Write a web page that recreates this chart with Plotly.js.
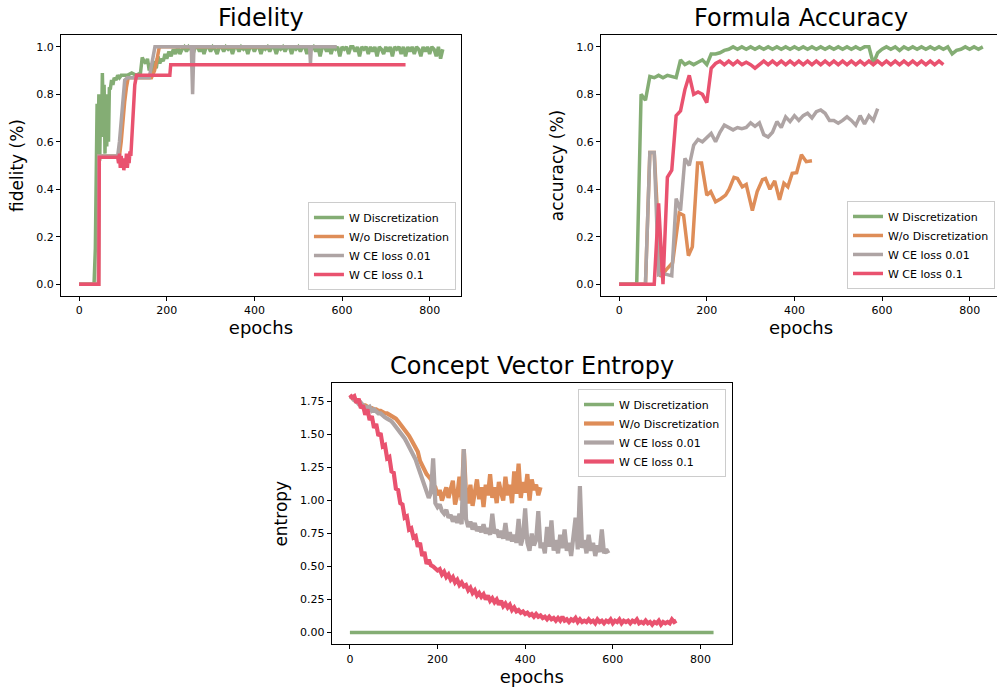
<!DOCTYPE html>
<html>
<head>
<meta charset="utf-8">
<script src="https://cdn.plot.ly/plotly-3.0.1.min.js"></script>
<style>
html,body{margin:0;padding:0;overflow:hidden;background:#fff;}
#chart{width:1001px;height:689px;}
</style>
</head>
<body>
<div id="chart"></div>
<script>
// ---------- series names & colours ----------
const seriesNames = ["W Discretization", "W/o Discretization", "W CE loss 0.01", "W CE loss 0.1"];
const seriesColors = ["#84ad74", "#de8d58", "#aea4a4", "#e9526f"];

// ---------- Fidelity ----------
const fidGreenX = [0,34,37,39,41,43,45,47,49,51,53,55,57,59,61,63,65,67,69,71,74,77,80,84,88,92,96,100,110,120,130,140,144,148,152,156,160,164,168,172,176,180,184,188,192,196,200,205,210,215,220,225,
230,235,240,245,250,255,260,265,270,275,280,285,290,295,300,305,310,315,320,325,330,335,340,345,350,355,360,365,370,375,380,385,390,395,400,405,410,415,420,425,430,435,440,445,450,455,460,465,470,475,480,485,490,495,500,505,510,515,520,525,530,535,540,545,550,555,560,565,570,575,580,585,590,595,600,605,610,615,620,625,630,635,640,645,650,655,660,665,670,675,680,685,690,695,700,705,710,715,720,725,730,735,740,745,750,755,760,765,770,775,780,785,790,795,800,805,810,815,820,825,830];
const fidGreen = [0,0,0.15,0.62,0.76,0.55,0.80,0.52,0.77,0.62,0.89,0.72,0.84,0.55,0.80,0.58,0.77,0.60,0.83,0.82,0.86,0.84,0.87,0.86,0.88,0.87,0.88,0.88,0.88,0.89,0.88,0.89,0.955,0.94,0.93,0.95,0.90,0.93,0.89,0.94,0.91,0.96,0.93,0.95,0.94,0.97,0.95,0.98,0.96,0.99,0.97,1.0,
0.97,0.99,1.0,0.98,1.0,0.99,0.97,1.0,1.0,0.98,1.0,0.97,1.0,1.0,0.98,1.0,0.99,0.97,1.0,1.0,0.98,1.0,0.99,1.0,0.97,1.0,1.0,0.98,1.0,0.99,1.0,0.97,1.0,1.0,0.98,1.0,1.0,0.97,1.0,0.99,1.0,0.98,1.0,1.0,0.97,1.0,0.99,1.0,0.98,1.0,1.0,0.97,1.0,0.99,1.0,0.98,1.0,1.0,0.97,1.0,0.99,1.0,0.98,1.0,0.96,1.0,1.0,0.98,1.0,0.97,1.0,0.99,1.0,0.96,1.0,0.99,1.0,0.97,1.0,1.0,0.98,1.0,0.96,1.0,0.99,1.0,0.97,1.0,0.98,1.0,0.96,1.0,0.99,0.97,1.0,0.98,1.0,0.96,1.0,0.99,1.0,0.97,1.0,0.96,1.0,0.98,1.0,0.97,1.0,0.99,0.96,1.0,0.98,1.0,0.97,1.0,0.99,0.96,1.0,0.95,0.99];
const fidOrangeX = [0,44,45,92,96,100,104,108,112,165,172,178,183,435];
const fidOrange  = [0,0,0.54,0.54,0.60,0.70,0.77,0.83,0.87,0.87,0.90,0.95,1.0,1.0];
const fidGrayX = [0,44,45,88,92,96,100,104,110,160,165,170,173,256,259,262,526,528,530,588];
const fidGray  = [0,0,0.54,0.54,0.60,0.70,0.80,0.86,0.87,0.87,0.92,0.98,1.0,1.0,0.80,1.0,1.0,0.93,1.0,1.0];
const fidRedX = [0,45,46,88,90,92,94,96,98,100,102,104,106,108,110,112,114,116,118,121,124,127,131,207,209,745];
const fidRed  = [0,0,0.535,0.535,0.51,0.55,0.49,0.54,0.50,0.53,0.48,0.52,0.50,0.55,0.49,0.53,0.51,0.56,0.54,0.65,0.79,0.84,0.88,0.88,0.925,0.925];

// ---------- Formula Accuracy (every 10 epochs) ----------
const accStep = 10;
const accGreen = [0,0,0,0,0,0.80,0.775,0.875,0.87,0.88,0.87,0.88,0.875,0.87,0.945,0.925,0.935,0.925,0.935,0.945,0.925,0.97,0.97,0.975,0.985,0.99,1.0,0.99,1.0,0.99,1.0,0.99,1.0,0.99,1.0,0.99,1.0,0.99,1.0,0.99,1.0,0.99,1.0,0.99,1.0,0.99,1.0,0.99,1.0,0.99,1.0,0.99,1.0,0.99,1.0,0.99,1.0,1.0,0.93,0.975,0.99,1.0,0.99,1.0,0.985,1.0,0.99,1.0,0.99,1.0,0.99,1.0,0.99,1.0,0.99,1.0,0.97,0.985,0.99,1.0,0.99,1.0,0.99,1.0];
const accOrangeX = [0,60,70,80,95,107,122,137,147,158,167,179,188,200,209,220,232,243,251,262,270,281,290,304,315,327,334,344,355,366,376,385,395,405,416,427,440];
const accOrange  = [0,0,0.555,0.555,0.03,0.06,0.09,0.30,0.29,0.12,0.157,0.51,0.51,0.375,0.39,0.347,0.36,0.375,0.40,0.45,0.445,0.41,0.42,0.31,0.39,0.44,0.445,0.40,0.435,0.355,0.425,0.41,0.467,0.47,0.545,0.516,0.52];
const accGray = [0,0,0,0,0,0,0,0.555,0.555,0.04,0.045,0.04,0.035,0.36,0.31,0.53,0.50,0.585,0.61,0.60,0.62,0.635,0.60,0.64,0.67,0.66,0.65,0.66,0.655,0.66,0.68,0.665,0.68,0.63,0.62,0.64,0.685,0.66,0.705,0.685,0.71,0.69,0.71,0.72,0.70,0.727,0.734,0.72,0.69,0.69,0.678,0.69,0.705,0.69,0.67,0.71,0.675,0.71,0.69,0.74];
const accRed = [0,0,0,0,0,0,0,0,0,0.34,0.0,0.45,0.48,0.71,0.73,0.82,0.88,0.80,0.81,0.80,0.765,0.91,0.93,0.94,0.925,0.94,0.925,0.94,0.925,0.935,0.925,0.91,0.925,0.94,0.925,0.94,0.925,0.94,0.925,0.94,0.925,0.94,0.925,0.94,0.925,0.94,0.925,0.94,0.925,0.94,0.925,0.94,0.925,0.94,0.925,0.94,0.925,0.94,0.925,0.94,0.925,0.94,0.925,0.94,0.925,0.94,0.925,0.94,0.925,0.94,0.925,0.94,0.925,0.94,0.925];

// ---------- Concept Vector Entropy (every 5 epochs) ----------
const entStep = 5;
const entGreenX = [0, 830];
const entGreen  = [0, 0];
const entOrange = [1.79,1.78,1.76,1.75,1.74,1.73,1.72,1.72,1.71,1.70,1.70,1.69,1.69,1.68,1.68,1.67,1.66,1.66,1.65,1.64,1.63,1.62,1.60,1.58,1.56,1.54,1.52,1.49,1.46,1.43,1.40,1.37,1.30,1.26,1.22,1.20,1.18,1.16,1.12,1.10,1.04,1.08,1.00,1.06,1.10,1.02,1.08,1.15,0.97,1.04,1.18,1.00,1.39,1.05,0.98,1.12,0.96,1.08,1.16,1.01,1.10,0.95,1.12,1.04,1.20,1.02,1.10,0.98,1.14,1.06,1.00,1.18,1.04,1.12,0.98,1.22,1.05,1.28,1.02,1.14,1.06,1.20,1.00,1.16,1.08,1.12,1.04,1.10];
const entGray = [1.79,1.78,1.76,1.75,1.73,1.74,1.72,1.71,1.70,1.71,1.68,1.69,1.67,1.66,1.66,1.64,1.63,1.62,1.61,1.60,1.58,1.56,1.54,1.52,1.49,1.47,1.44,1.41,1.38,1.35,1.31,1.26,1.21,1.17,1.13,1.06,1.02,1.06,1.32,0.98,0.95,0.97,0.92,0.90,0.93,0.87,0.89,0.84,0.88,0.83,0.90,0.82,1.39,0.86,0.80,0.84,0.78,0.83,0.77,0.80,0.76,0.82,0.75,0.79,0.74,0.90,0.75,0.78,0.72,0.77,0.71,0.83,0.70,0.76,0.69,0.74,0.68,0.86,0.66,0.72,0.94,0.68,0.62,0.75,0.66,0.70,0.92,0.64,0.68,0.60,0.80,0.65,0.85,0.62,0.70,0.60,0.74,0.64,0.78,0.62,0.68,0.58,0.72,0.87,0.63,1.11,0.64,0.70,0.60,0.74,0.62,0.68,0.58,0.66,0.61,0.78,0.60,0.63,0.60];
const entRed = [1.80,1.78,1.79,1.74,1.77,1.70,1.72,1.65,1.69,1.61,1.64,1.55,1.58,1.49,1.51,1.41,1.42,1.32,1.33,1.22,1.21,1.09,1.08,0.98,0.97,0.87,0.88,0.78,0.79,0.72,0.73,0.65,0.68,0.58,0.61,0.52,0.55,0.51,0.50,0.48,0.47,0.48,0.44,0.46,0.42,0.44,0.40,0.42,0.38,0.40,0.36,0.38,0.35,0.36,0.32,0.34,0.30,0.32,0.28,0.30,0.27,0.29,0.25,0.28,0.24,0.26,0.23,0.25,0.21,0.24,0.20,0.22,0.19,0.21,0.17,0.19,0.16,0.17,0.15,0.16,0.14,0.15,0.13,0.14,0.12,0.14,0.12,0.13,0.11,0.12,0.10,0.12,0.10,0.11,0.09,0.11,0.09,0.12,0.09,0.10,0.08,0.10,0.09,0.11,0.08,0.10,0.08,0.09,0.08,0.10,0.08,0.09,0.07,0.10,0.08,0.09,0.07,0.09,0.08,0.10,0.07,0.09,0.08,0.10,0.07,0.09,0.08,0.09,0.07,0.09,0.08,0.10,0.07,0.08,0.07,0.09,0.07,0.08,0.06,0.08,0.07,0.09,0.06,0.08,0.07,0.08,0.07,0.10,0.08,0.09];

// ---------- tick labels ----------
const xTicks = [0, 200, 400, 600, 800];
const accYTicks = [0, 0.2, 0.4, 0.6, 0.8, 1.0];
const entYTicks = [0, 0.25, 0.5, 0.75, 1.0, 1.25, 1.5, 1.75];

const epochs = (n, step) => Array.from({length: n}, (_, i) => i * step);

const FONT = "DejaVu Sans, sans-serif";
function tr(x, y, idx, xa, ya, leg, lw) {
  return {x: x, y: y, type: "scatter", mode: "lines", name: seriesNames[idx],
          line: {color: seriesColors[idx], width: lw}, xaxis: xa, yaxis: ya,
          legend: leg, showlegend: true};
}

const data = [
  tr(fidGreenX, fidGreen, 0, "x", "y", "legend", 3.5),
  tr(fidOrangeX, fidOrange, 1, "x", "y", "legend", 3.5),
  tr(fidGrayX, fidGray, 2, "x", "y", "legend", 3.5),
  tr(fidRedX, fidRed, 3, "x", "y", "legend", 3.5),
  tr(epochs(accGreen.length, accStep), accGreen, 0, "x2", "y2", "legend2", 3.5),
  tr(accOrangeX, accOrange, 1, "x2", "y2", "legend2", 3.5),
  tr(epochs(accGray.length, accStep), accGray, 2, "x2", "y2", "legend2", 3.5),
  tr(epochs(accRed.length, accStep), accRed, 3, "x2", "y2", "legend2", 3.5),
  tr(entGreenX, entGreen, 0, "x3", "y3", "legend3", 3.5),
  tr(epochs(entOrange.length, entStep), entOrange, 1, "x3", "y3", "legend3", 4.2),
  tr(epochs(entGray.length, entStep), entGray, 2, "x3", "y3", "legend3", 4.2),
  tr(epochs(entRed.length, entStep), entRed, 3, "x3", "y3", "legend3", 4.2)
];

function xax(domain, anchor) {
  return {domain: domain, anchor: anchor, range: [-41.5, 871.5], tickvals: xTicks,
    ticks: "outside", ticklen: 4, tickcolor: "#000", showline: true, linecolor: "#000",
    linewidth: 1, mirror: true, showgrid: false, zeroline: false,
    tickfont: {family: FONT, size: 11, color: "#000"},
    title: {text: "epochs", font: {family: FONT, size: 18, color: "#000"}, standoff: 3}};
}
function yax(domain, anchor, range, ticks, fmt, title) {
  return {domain: domain, anchor: anchor, range: range, tickvals: ticks, tickformat: fmt,
    ticks: "outside", ticklen: 4, tickcolor: "#000", showline: true, linecolor: "#000",
    linewidth: 1, mirror: true, showgrid: false, zeroline: false,
    tickfont: {family: FONT, size: 11, color: "#000"},
    title: {text: title, font: {family: FONT, size: 17, color: "#000"}, standoff: 8}};
}
function legendAt(x, y, yanchor) {
  return {x: x, y: y, xanchor: "right", yanchor: yanchor, xref: "paper", yref: "paper",
    bgcolor: "rgba(255,255,255,0.8)", bordercolor: "#cccccc", borderwidth: 1,
    font: {family: FONT, size: 11, color: "#000"}, itemwidth: 30, tracegroupgap: 0};
}
function titleAnn(text, x, y) {
  return {text: text, x: x, y: y, xref: "paper", yref: "paper", xanchor: "center",
    yanchor: "bottom", showarrow: false, font: {family: FONT, size: 24, color: "#000"}};
}

const topY = [0.5704, 0.9492];
const layout = {
  width: 1001, height: 689,
  margin: {l: 0, r: 0, t: 0, b: 0},
  paper_bgcolor: "#fff", plot_bgcolor: "#fff",
  font: {family: FONT, color: "#000"},
  xaxis: xax([0.0609, 0.4605], "y"),
  yaxis: yax(topY, "x", [-0.05, 1.05], accYTicks, ".1f", "fidelity (%)"),
  xaxis2: xax([0.6004, 1.0], "y2"),
  yaxis2: yax(topY, "x2", [-0.05, 1.05], accYTicks, ".1f", "accuracy (%)"),
  xaxis3: xax([0.3314, 0.7310], "y3"),
  yaxis3: yax([0.0647, 0.4441], "x3", [-0.09, 1.89], entYTicks, ".2f", "entropy"),
  legend: legendAt(0.4555, 0.5791, "bottom"),
  legend2: legendAt(0.994, 0.5806, "bottom"),
  legend3: legendAt(0.7253, 0.4354, "top"),
  annotations: [
    titleAnn("Fidelity", 0.2607, 0.9505),
    titleAnn("Formula Accuracy", 0.8002, 0.9505),
    titleAnn("Concept Vector Entropy", 0.5312, 0.4455)
  ]
};

Plotly.newPlot("chart", data, layout, {staticPlot: true, displayModeBar: false});
</script>
</body>
</html>
